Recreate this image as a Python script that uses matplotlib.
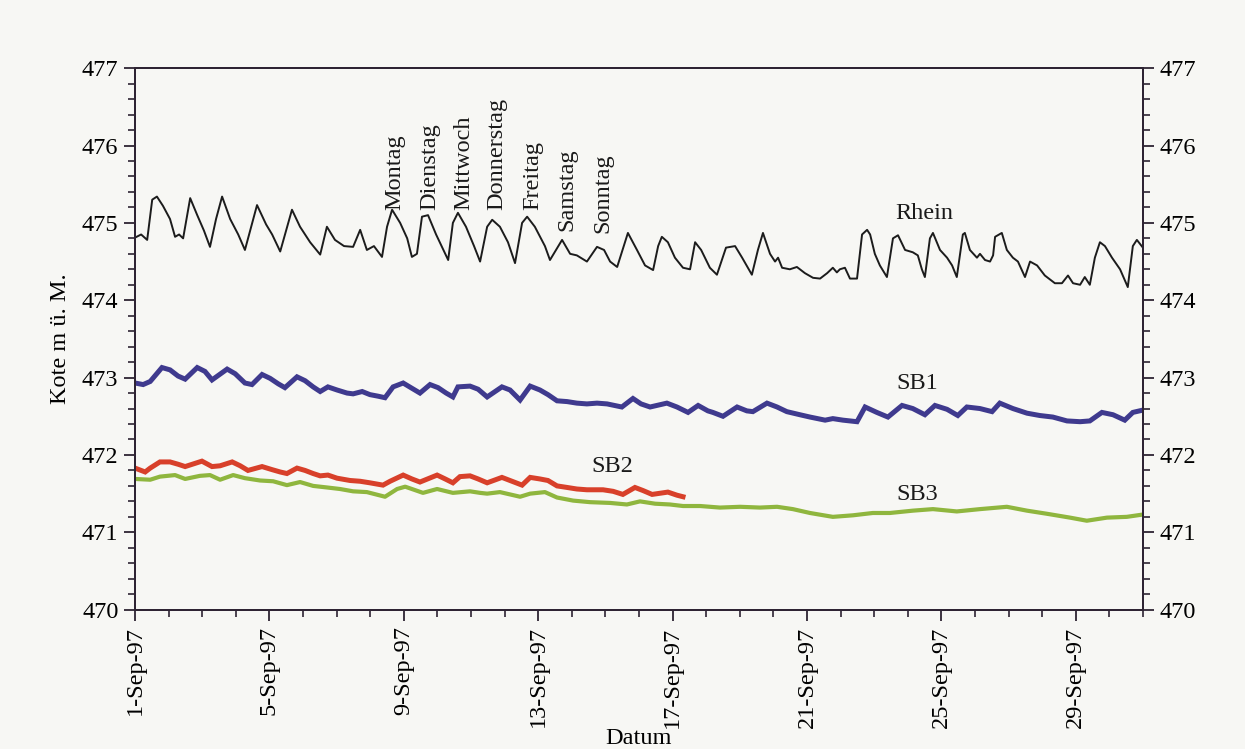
import matplotlib
matplotlib.use("Agg")
import matplotlib.pyplot as plt
from matplotlib.ticker import MultipleLocator, FixedLocator
import numpy as np

# ---------------- data (days since 1-Sep-97 00:00, level in m ü. M.) ----------------
rhein_day = [0.00, 0.18, 0.36, 0.51, 0.65, 0.83, 1.04, 1.19, 1.31, 1.43, 1.64, 1.85, 2.05, 2.23,
             2.41, 2.59, 2.83, 3.07, 3.27, 3.63, 3.90, 4.08, 4.32, 4.67, 4.91, 5.21, 5.51, 5.71,
             5.95, 6.22, 6.49, 6.70, 6.90, 7.11, 7.35, 7.50, 7.65, 7.89, 8.10, 8.24, 8.39, 8.54,
             8.72, 8.96, 9.32, 9.46, 9.61, 9.85, 10.09, 10.27, 10.48, 10.63, 10.86, 11.10, 11.31,
             11.52, 11.67, 11.90, 12.20, 12.35, 12.71, 12.95, 13.15, 13.45, 13.75, 13.96, 14.14,
             14.35, 14.67, 14.94, 15.18, 15.42, 15.57, 15.68, 15.86, 16.07, 16.31, 16.52, 16.67,
             16.85, 17.11, 17.32, 17.59, 17.86, 18.07, 18.36, 18.54, 18.69, 18.90, 19.05, 19.14,
             19.26, 19.49, 19.70, 19.94, 20.18, 20.39, 20.60, 20.77, 20.89, 20.98, 21.13, 21.28,
             21.49, 21.64, 21.79, 21.88, 22.02, 22.17, 22.38, 22.56, 22.71, 22.92, 23.15, 23.30,
             23.42, 23.51, 23.66, 23.75, 23.96, 24.17, 24.32, 24.46, 24.64, 24.70, 24.85, 25.06,
             25.15, 25.30, 25.45, 25.54, 25.60, 25.80, 25.95, 26.13, 26.28, 26.49, 26.64, 26.85,
             27.08, 27.38, 27.59, 27.77, 27.92, 28.13, 28.27, 28.42, 28.57, 28.72, 28.87, 29.08,
             29.32, 29.55, 29.70, 29.82, 30.00]
rhein_level = [474.81, 474.85, 474.78, 475.30, 475.34, 475.22, 475.05, 474.82, 474.85, 474.80,
               475.32, 475.10, 474.90, 474.69, 475.05, 475.34, 475.05, 474.85, 474.65, 475.23,
               474.98, 474.85, 474.63, 475.17, 474.95, 474.75, 474.59, 474.95, 474.78, 474.70,
               474.69, 474.91, 474.65, 474.70, 474.56, 474.95, 475.17, 475.00, 474.80, 474.56,
               474.60, 475.08, 475.10, 474.85, 474.52, 475.00, 475.13, 474.95, 474.70, 474.50,
               474.95, 475.04, 474.95, 474.75, 474.48, 475.00, 475.08, 474.95, 474.70, 474.52,
               474.78, 474.60, 474.58, 474.50, 474.69, 474.65, 474.50, 474.43, 474.87, 474.65,
               474.45, 474.39, 474.70, 474.82, 474.75, 474.55, 474.42, 474.40, 474.75, 474.65,
               474.42, 474.33, 474.68, 474.70, 474.55, 474.33, 474.65, 474.87, 474.60, 474.50,
               474.55, 474.42, 474.40, 474.43, 474.35, 474.29, 474.28, 474.35, 474.42, 474.36,
               474.40, 474.42, 474.28, 474.28, 474.85, 474.91, 474.85, 474.60, 474.45, 474.30,
               474.80, 474.84, 474.65, 474.62, 474.58, 474.40, 474.30, 474.80, 474.87, 474.65,
               474.55, 474.45, 474.30, 474.85, 474.87, 474.65, 474.55, 474.60, 474.52, 474.50,
               474.58, 474.82, 474.87, 474.65, 474.55, 474.50, 474.30, 474.50, 474.45, 474.32,
               474.22, 474.22, 474.32, 474.22, 474.20, 474.30, 474.20, 474.55, 474.75, 474.70,
               474.55, 474.40, 474.17, 474.70, 474.78, 474.68]

sb1_day = [0.00, 0.24, 0.45, 0.80, 1.04, 1.28, 1.49, 1.85, 2.08, 2.29, 2.74, 2.98, 3.27, 3.48,
           3.78, 4.02, 4.26, 4.46, 4.82, 5.06, 5.30, 5.51, 5.74, 6.01, 6.31, 6.49, 6.76, 6.99,
           7.23, 7.44, 7.68, 7.98, 8.21, 8.48, 8.78, 9.02, 9.26, 9.46, 9.61, 9.97, 10.21, 10.48,
           10.92, 11.16, 11.46, 11.76, 12.05, 12.29, 12.56, 12.86, 13.15, 13.45, 13.75, 14.05,
           14.49, 14.82, 15.06, 15.33, 15.83, 16.13, 16.46, 16.76, 17.05, 17.20, 17.50, 17.92,
           18.21, 18.39, 18.81, 19.11, 19.40, 19.79, 20.09, 20.54, 20.77, 21.07, 21.49, 21.73,
           22.08, 22.41, 22.83, 23.15, 23.51, 23.81, 24.17, 24.49, 24.76, 25.15, 25.51, 25.74,
           26.13, 26.55, 26.93, 27.32, 27.74, 28.13, 28.42, 28.78, 29.11, 29.46, 29.70, 30.00]
sb1_level = [472.93, 472.91, 472.95, 473.13, 473.10, 473.02, 472.98, 473.13, 473.08, 472.97,
             473.11, 473.05, 472.93, 472.91, 473.04, 472.99, 472.92, 472.87, 473.01, 472.96,
             472.88, 472.82, 472.88, 472.84, 472.80, 472.79, 472.82, 472.78, 472.76, 472.74,
             472.88, 472.93, 472.87, 472.80, 472.91, 472.87, 472.80, 472.75, 472.88, 472.89,
             472.85, 472.75, 472.88, 472.84, 472.71, 472.89, 472.84, 472.78, 472.70, 472.69,
             472.67, 472.66, 472.67, 472.66, 472.62, 472.73, 472.66, 472.62, 472.67, 472.62,
             472.55, 472.64, 472.57, 472.55, 472.50, 472.62, 472.57, 472.56, 472.67, 472.62,
             472.56, 472.52, 472.49, 472.45, 472.47, 472.45, 472.43, 472.62, 472.55, 472.49,
             472.64, 472.60, 472.52, 472.64, 472.59, 472.51, 472.62, 472.60, 472.56, 472.67,
             472.60, 472.54, 472.51, 472.49, 472.44, 472.43, 472.44, 472.55, 472.52, 472.45,
             472.55, 472.58]

sb2_day = [0.00, 0.30, 0.45, 0.74, 1.04, 1.28, 1.49, 1.99, 2.29, 2.53, 2.89, 3.13, 3.36, 3.78,
           4.08, 4.32, 4.52, 4.82, 5.06, 5.30, 5.51, 5.74, 6.01, 6.40, 6.70, 6.99, 7.38, 7.59,
           7.98, 8.24, 8.48, 8.99, 9.23, 9.46, 9.67, 9.97, 10.21, 10.48, 10.92, 11.22, 11.52,
           11.76, 12.05, 12.29, 12.56, 12.86, 13.15, 13.45, 13.93, 14.23, 14.52, 14.88, 15.12,
           15.39, 15.86, 16.13, 16.31]
sb2_level = [471.83, 471.78, 471.83, 471.91, 471.91, 471.88, 471.85, 471.92, 471.85, 471.86,
             471.91, 471.86, 471.80, 471.85, 471.81, 471.78, 471.76, 471.83, 471.80, 471.76,
             471.73, 471.74, 471.70, 471.67, 471.66, 471.64, 471.61, 471.66, 471.74, 471.69,
             471.65, 471.74, 471.69, 471.64, 471.72, 471.73, 471.69, 471.64, 471.71, 471.66,
             471.61, 471.71, 471.69, 471.67, 471.60, 471.58, 471.56, 471.55, 471.55, 471.53,
             471.49, 471.58, 471.54, 471.49, 471.52, 471.48, 471.46]

sb3_day = [0.00, 0.45, 0.74, 1.19, 1.49, 1.93, 2.23, 2.53, 2.92, 3.27, 3.72, 4.11, 4.52, 4.91,
           5.30, 5.71, 6.10, 6.49, 6.90, 7.44, 7.80, 8.04, 8.57, 8.99, 9.46, 9.97, 10.27, 10.48,
           10.86, 11.46, 11.76, 12.20, 12.56, 13.04, 13.54, 14.14, 14.64, 15.03, 15.48, 15.92,
           16.31, 16.82, 17.41, 18.01, 18.60, 19.11, 19.58, 20.09, 20.77, 21.37, 21.96, 22.47,
           23.15, 23.75, 24.46, 25.15, 25.95, 26.55, 27.14, 27.83, 28.33, 28.93, 29.52, 30.00]
sb3_level = [471.69, 471.68, 471.72, 471.74, 471.69, 471.73, 471.74, 471.68, 471.74, 471.70,
             471.67, 471.66, 471.61, 471.65, 471.60, 471.58, 471.56, 471.53, 471.52, 471.46,
             471.56, 471.59, 471.51, 471.56, 471.51, 471.53, 471.51, 471.50, 471.52, 471.46,
             471.50, 471.52, 471.45, 471.41, 471.39, 471.38, 471.36, 471.40, 471.37, 471.36,
             471.34, 471.34, 471.32, 471.33, 471.32, 471.33, 471.30, 471.25, 471.20, 471.22,
             471.25, 471.25, 471.28, 471.30, 471.27, 471.30, 471.33, 471.28, 471.24, 471.19,
             471.15, 471.19, 471.20, 471.23]

xtick_days = [0, 4, 8, 12, 16, 20, 24, 28]
xtick_labels = ["1-Sep-97", "5-Sep-97", "9-Sep-97", "13-Sep-97", "17-Sep-97",
                "21-Sep-97", "25-Sep-97", "29-Sep-97"]
yticks = [470, 471, 472, 473, 474, 475, 476, 477]

weekday_names = ["Montag", "Dienstag", "Mittwoch", "Donnerstag", "Freitag", "Samstag", "Sonntag"]
weekday_day = [7.74, 8.78, 9.77, 10.78, 11.85, 12.86, 13.93]
weekday_level = [475.17, 475.17, 475.17, 475.17, 475.17, 474.89, 474.87]

series_names = ["Rhein", "SB1", "SB2", "SB3"]
series_label_day = [23.5, 23.27, 14.2, 23.27]
series_label_level = [475.12, 472.93, 471.85, 471.49]

# ---------------- styling ----------------
plt.rcParams['font.family'] = ['Liberation Serif', 'DejaVu Serif']
bg = '#f7f7f4'
spine_col = '#2e2433'
fs = 17.5

fig = plt.figure(figsize=(12.45, 7.49), dpi=100, facecolor=bg)
ax = fig.add_axes([0.1085, 0.186, 0.8095, 0.723])
ax.set_facecolor(bg)

ax.plot(rhein_day, rhein_level, color='#1c1c1c', lw=1.4)
ax.plot(sb1_day, sb1_level, color='#3f3a8e', lw=3.6, solid_joinstyle='miter')
ax.plot(sb3_day, sb3_level, color='#8fb63e', lw=3.0)
ax.plot(sb2_day, sb2_level, color='#d8402a', lw=3.6, solid_joinstyle='miter')

ax.set_xlim(0, 30)
ax.set_ylim(470, 477)

ax.xaxis.set_major_locator(FixedLocator(xtick_days))
ax.set_xticklabels(xtick_labels, rotation=90, fontsize=fs)
ax.xaxis.set_minor_locator(MultipleLocator(1))
ax.yaxis.set_major_locator(FixedLocator(yticks))
ax.yaxis.set_minor_locator(MultipleLocator(0.2))
ax.tick_params(axis='both', which='major', direction='out', length=8, width=1.3,
               color=spine_col, labelsize=fs, pad=4)
ax.tick_params(axis='both', which='minor', direction='out', length=5, width=1.2, color=spine_col)
ax.tick_params(axis='x', which='both', top=False)

for s in ax.spines.values():
    s.set_color(spine_col)
    s.set_linewidth(1.4)

ax2 = ax.twinx()
ax2.set_ylim(ax.get_ylim())
ax2.yaxis.set_major_locator(FixedLocator(yticks))
ax2.yaxis.set_minor_locator(MultipleLocator(0.2))
ax2.tick_params(axis='y', which='major', direction='out', length=8, width=1.3,
                color=spine_col, labelsize=fs, pad=4)
ax2.tick_params(axis='y', which='minor', direction='out', length=5, width=1.2, color=spine_col)
for s in ax2.spines.values():
    s.set_color(spine_col)
    s.set_linewidth(1.4)

ax.set_ylabel("Kote m ü. M.", fontsize=fs, labelpad=8)
ax.set_xlabel("Datum", fontsize=fs, labelpad=0)

for name, d, v in zip(weekday_names, weekday_day, weekday_level):
    ax.text(d, v, name, rotation=90, ha='center', va='bottom', fontsize=fs, color='#1a1a1a')

for name, d, v in zip(series_names, series_label_day, series_label_level):
    ax.text(d, v, name, ha='center', va='center', fontsize=fs, color='#1a1a1a')

fig.savefig("out.png", dpi=100, facecolor=bg)
